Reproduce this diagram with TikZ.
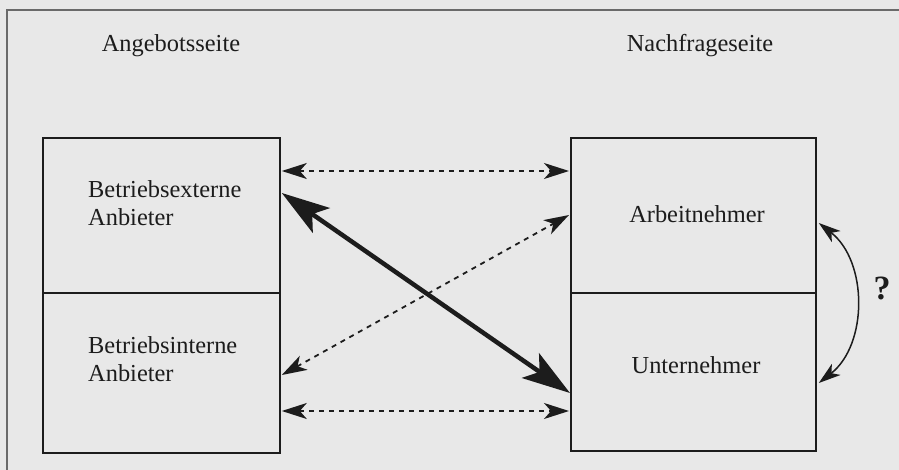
\documentclass[tikz,border=0pt]{standalone}
\usepackage{fontspec}
\setmainfont{Liberation Serif}
\usepackage{xcolor}
\usepackage{tikz}
\usetikzlibrary{calc,arrows.meta}
\definecolor{paper}{HTML}{E8E8E8}
\definecolor{ink}{HTML}{1C1C1C}
\definecolor{frame}{HTML}{6A6A6A}
\tikzset{
  box/.style={draw=ink, line width=1.8pt, inner sep=0pt},
  lab/.style={text=ink, inner sep=0pt, font=\fontsize{24.4}{28}\selectfont},
  dashlink/.style={draw=ink, line width=1.8pt, dash pattern=on 5pt off 5pt,
    {Stealth[length=25pt,width=16pt,inset=7pt]}-{Stealth[length=25pt,width=16pt,inset=7pt]}},
  strong/.style={draw=ink, line width=4.5pt,
    {Stealth[length=48pt,width=30pt,inset=11pt]}-{Stealth[length=48pt,width=30pt,inset=11pt]}},
  curv/.style={draw=ink, line width=1.5pt,
    {Stealth[length=22pt,width=14pt,inset=6pt]}-{Stealth[length=22pt,width=14pt,inset=6pt]}}
}
\begin{document}
\begin{tikzpicture}[x=1pt,y=-1pt]
  \useasboundingbox (0,0) rectangle (899,470);
  \fill[paper] (0,0) rectangle (899,470);
  \draw[frame, line width=1.3pt] (7,470) -- (7,10) -- (899,10);

  % headings
  \node[lab, anchor=base] (angebot) at (171,52) {Angebotsseite};
  \node[lab, anchor=base] (nachfrage) at (700,52) {Nachfrageseite};

  % left column
  \node[box, minimum width=237pt, minimum height=155pt, anchor=north west] (ext) at (42,137) {};
  \node[box, minimum width=237pt, minimum height=160pt, anchor=north west] (int) at (42,292) {};
  \node[lab, anchor=west, align=left] (extlab) at (88,203) {Betriebsexterne\\Anbieter};
  \node[lab, anchor=west, align=left] (intlab) at (88,359) {Betriebsinterne\\Anbieter};

  % right column
  \node[box, minimum width=245pt, minimum height=155pt, anchor=north west] (arb) at (570,137) {};
  \node[box, minimum width=245pt, minimum height=158pt, anchor=north west] (unt) at (570,292) {};
  \node[lab, anchor=base] (arblab) at (697,223) {Arbeitnehmer};
  \node[lab, anchor=base] (untlab) at (696,373) {Unternehmer};

  % ends of the connectors
  \coordinate (e1) at ($(ext.north east)+(1,34)$);
  \coordinate (e2) at ($(ext.north east)+(1,56)$);
  \coordinate (i1) at ($(int.north east)+(1,83)$);
  \coordinate (i2) at ($(int.north east)+(1,119)$);
  \coordinate (a1) at ($(arb.north west)+(-1,34)$);
  \coordinate (a2) at ($(arb.north west)+(-1,78)$);
  \coordinate (u1) at ($(unt.north west)+(0,101)$);
  \coordinate (u2) at ($(unt.north west)+(-1,119)$);
  \coordinate (a3) at ($(arb.north east)+(2,86)$);
  \coordinate (u3) at ($(unt.north east)+(2,91)$);

  \draw[dashlink] (e1) -- (a1);
  \draw[strong] (e2) -- (u1);
  \draw[dashlink] (i1) -- (a2);
  \draw[dashlink] (i2) -- (u2);
  \draw[curv] (a3) to[bend left=52] (u3);
  \node[lab, font=\fontsize{34}{38}\selectfont\bfseries] (frage) at (882,288) {?};
\end{tikzpicture}
\end{document}
